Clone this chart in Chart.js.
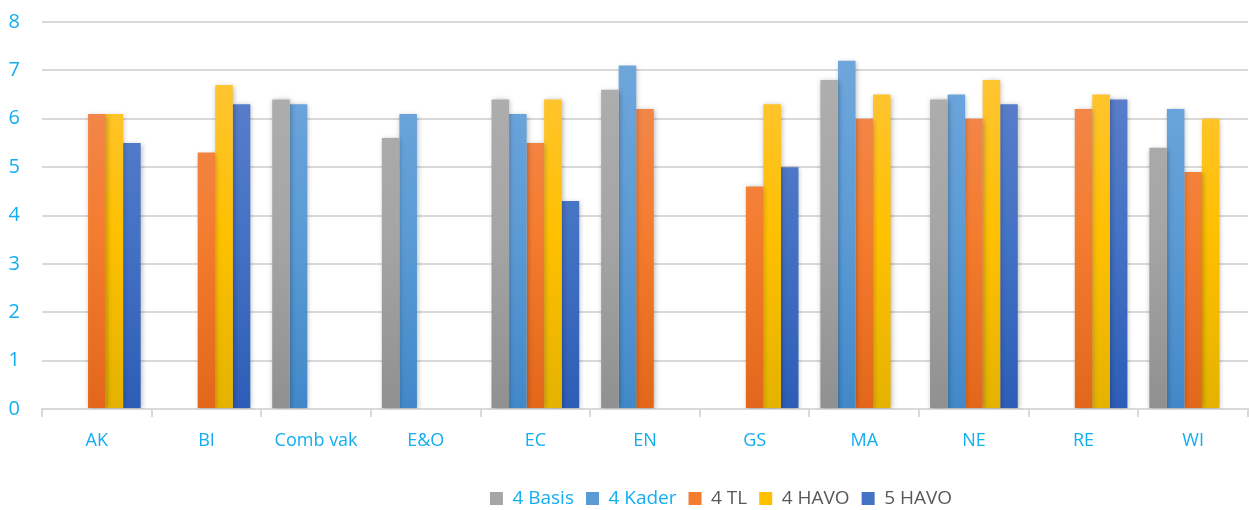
<!DOCTYPE html>
<html>
<head>
<meta charset="utf-8">
<script src="https://cdn.jsdelivr.net/npm/chart.js@4"></script>
<style>
  html, body { margin: 0; padding: 0; background: #fff; }
  #wrap { width: 1249px; height: 510px; }
</style>
</head>
<body>
<div id="wrap"><canvas id="chart"></canvas></div>
<script>
// categories (vakken)
const categories = ['AK', 'BI', 'Comb vak', 'E&O', 'EC', 'EN', 'GS', 'MA', 'NE', 'RE', 'WI'];

// series values, null = no bar
const basis4 = [null, null, 6.4, 5.6, 6.4, 6.6, null, 6.8, 6.4, null, 5.4];
const kader4 = [null, null, 6.3, 6.1, 6.1, 7.1, null, 7.2, 6.5, null, 6.2];
const tl4    = [6.1, 5.3, null, null, 5.5, 6.2, 4.6, 6.0, 6.0, 6.2, 4.9];
const havo4  = [6.1, 6.7, null, null, 6.4, null, 6.3, 6.5, 6.8, 6.5, 6.0];
const havo5  = [5.5, 6.3, null, null, 4.3, null, 5.0, null, 6.3, 6.4, null];

const seriesNames = ['4 Basis', '4 Kader', '4 TL', '4 HAVO', '5 HAVO'];
const yTicks = [0, 1, 2, 3, 4, 5, 6, 7, 8];

// gradient stops per series (top, middle, bottom)
const gradStops = [
  ['#b1b1b1', '#a5a5a5', '#909090'],
  ['#73a9dd', '#5b9bd5', '#4288c9'],
  ['#f18d5a', '#f47c2f', '#e2671a'],
  ['#ffc645', '#ffc000', '#e4b200'],
  ['#6383cd', '#4472c4', '#2d5db7']
];
const legendFontColors = ['#12aef0', '#12aef0', '#595959', '#595959', '#595959'];

function barGradient(idx) {
  return (ctx) => {
    const chart = ctx.chart;
    const area = chart.chartArea;
    if (!area) return gradStops[idx][1];
    const g = chart.ctx.createLinearGradient(0, area.top, 0, area.bottom);
    g.addColorStop(0, gradStops[idx][0]);
    g.addColorStop(0.55, gradStops[idx][1]);
    g.addColorStop(1, gradStops[idx][2]);
    return g;
  };
}

// soft shadow under the bars
const barShadow = {
  id: 'barShadow',
  beforeDatasetsDraw(chart) {
    const c = chart.ctx;
    c.save();
    c.shadowColor = 'rgba(0,0,0,0.28)';
    c.shadowBlur = 5;
    c.shadowOffsetX = 1;
    c.shadowOffsetY = 1;
  },
  afterDatasetsDraw(chart) { chart.ctx.restore(); }
};

// legend in the original sits a bit right of centre
const legendShift = {
  id: 'legendShift',
  afterLayout(chart) {
    chart.legend.left += 97;
    chart.legend.right += 97;
  }
};

const allSeries = [basis4, kader4, tl4, havo4, havo5];

new Chart(document.getElementById('chart'), {
  type: 'bar',
  data: {
    labels: categories,
    datasets: allSeries.map((vals, i) => ({
      label: seriesNames[i],
      data: vals,
      backgroundColor: barGradient(i),
      borderWidth: 0,
      categoryPercentage: 0.8,
      barPercentage: 1.0
    }))
  },
  options: {
    responsive: true,
    maintainAspectRatio: false,
    animation: false,
    layout: { padding: { top: 22, right: 1, left: 0, bottom: -8 } },
    plugins: {
      tooltip: { enabled: false },
      legend: {
        position: 'bottom',
        labels: {
          font: { family: 'Open Sans', size: 19 },
          boxWidth: 13,
          boxHeight: 13,
          padding: 12,
          generateLabels(chart) {
            return chart.data.datasets.map((ds, i) => ({
              text: ds.label,
              fillStyle: gradStops[i][1],
              strokeStyle: gradStops[i][1],
              lineWidth: 0,
              fontColor: legendFontColors[i],
              datasetIndex: i,
              hidden: false
            }));
          }
        }
      }
    },
    scales: {
      x: {
        offset: true,
        afterFit(axis) { axis.height = 68; axis.paddingLeft = 0; axis.paddingRight = 0; },
        grid: {
          offset: true,
          drawOnChartArea: false,
          drawTicks: true,
          tickLength: 8,
          color: '#d9d9d9',
          lineWidth: 2
        },
        border: { display: true, color: '#d9d9d9', width: 2 },
        ticks: {
          color: '#12aef0',
          font: { family: 'Open Sans', size: 18 },
          padding: 13
        }
      },
      y: {
        min: 0,
        max: 8,
        afterFit(axis) { axis.width = 42; axis.paddingTop = 0; axis.paddingBottom = 0; },
        afterBuildTicks(axis) {
          axis.ticks = yTicks.map(v => ({ value: v }));
        },
        grid: { color: '#d9d9d9', lineWidth: 2, drawTicks: false },
        border: { display: false },
        ticks: {
          color: '#12aef0',
          font: { family: 'Open Sans', size: 20 },
          padding: 22
        }
      }
    }
  },
  plugins: [barShadow, legendShift]
});
</script>
</body>
</html>
